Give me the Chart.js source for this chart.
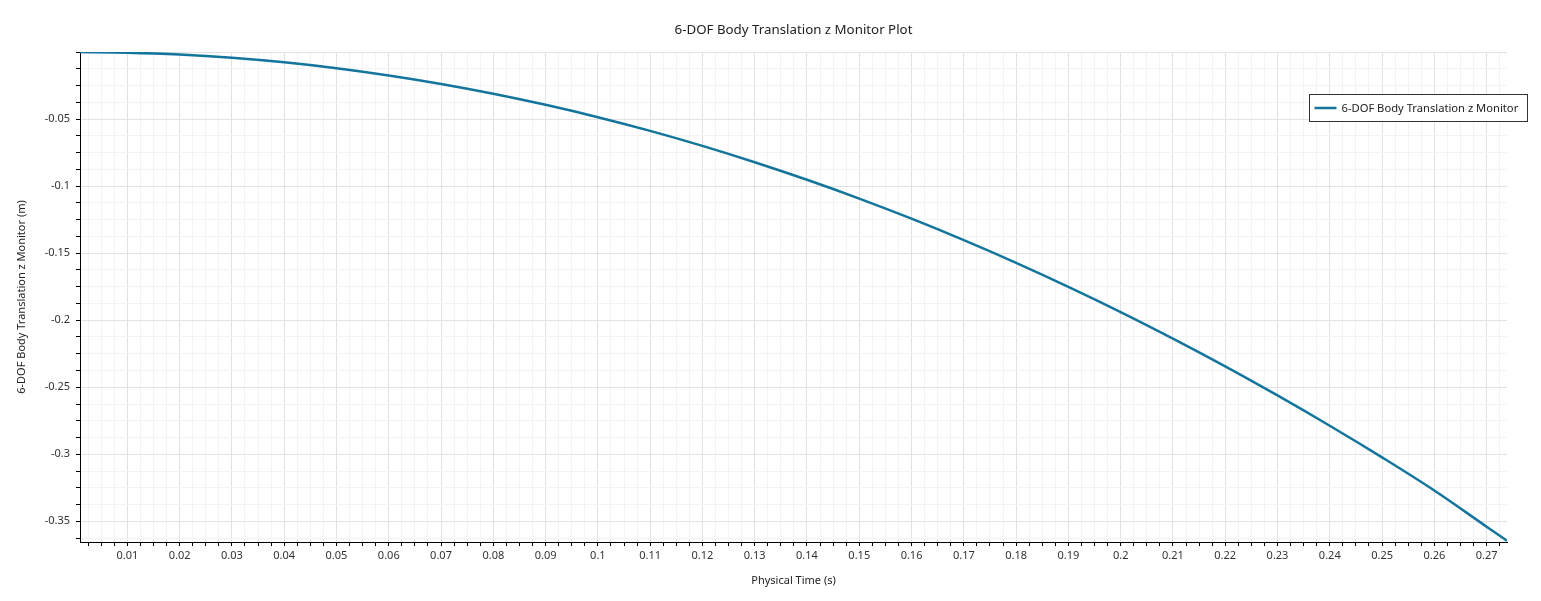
<!DOCTYPE html>
<html>
<head>
<meta charset="utf-8">
<title>6-DOF Body Translation z Monitor Plot</title>
<script src="https://cdn.jsdelivr.net/npm/chart.js@4.4.1/dist/chart.umd.min.js"></script>
<style>
  html, body { margin: 0; padding: 0; background: #fff; }
  #wrap { width: 1541px; height: 601px; }
</style>
</head>
<body>
<div id="wrap"><canvas id="monitorChart" width="1541" height="601"></canvas></div>
<script>
// physical time (s) and body translation z (m)
const times = [0.00094, 0.01, 0.02, 0.03, 0.04, 0.05, 0.06, 0.07, 0.08, 0.09, 0.1,
  0.11, 0.12, 0.13, 0.14, 0.15, 0.16, 0.17, 0.18, 0.19, 0.2,
  0.21, 0.22, 0.23, 0.24, 0.25, 0.26, 0.27, 0.2739];
const translationZ = [0.0, -0.0005, -0.0019, -0.0043, -0.0077, -0.0121, -0.0175, -0.0238, -0.0311, -0.0394, -0.0486,
  -0.0588, -0.0700, -0.0822, -0.0953, -0.1093, -0.1243, -0.1403, -0.1572, -0.1751, -0.1939,
  -0.2137, -0.2344, -0.2561, -0.2787, -0.3023, -0.3270, -0.3540, -0.3645];
const seriesLabel = '6-DOF Body Translation z Monitor';
const plotTitle = '6-DOF Body Translation z Monitor Plot';

const lineColor = '#13759c';
const fontFamily = "'Noto Sans', 'Open Sans', sans-serif";

function fmt(v) {
  return parseFloat(v.toFixed(3)).toString();
}

// title centred over the plot area, not the whole canvas
const plotTitleText = {
  id: 'plotTitleText',
  afterDraw(chart) {
    const ctx = chart.ctx;
    const area = chart.chartArea;
    ctx.save();
    ctx.fillStyle = '#222';
    ctx.font = '13.3px ' + fontFamily;
    ctx.textAlign = 'center';
    ctx.textBaseline = 'middle';
    ctx.fillText(plotTitle, (area.left + area.right) / 2, 30);
    ctx.restore();
  }
};

// legend box sitting over the top right of the plot
const boxLegend = {
  id: 'boxLegend',
  afterDraw(chart) {
    const ctx = chart.ctx;
    const x = 1309.5, y = 94.5, w = 218, h = 27;
    ctx.save();
    ctx.fillStyle = '#fff';
    ctx.fillRect(x, y, w, h);
    ctx.strokeStyle = '#333';
    ctx.lineWidth = 1;
    ctx.strokeRect(x, y, w, h);
    ctx.strokeStyle = lineColor;
    ctx.lineWidth = 2.5;
    ctx.beginPath();
    ctx.moveTo(x + 5, y + 13.5);
    ctx.lineTo(x + 27, y + 13.5);
    ctx.stroke();
    ctx.fillStyle = '#222';
    ctx.font = '11.2px ' + fontFamily;
    ctx.textBaseline = 'middle';
    ctx.fillText(chart.data.datasets[0].label, x + 32, y + 14);
    ctx.restore();
  }
};

const points = times.map((t, i) => ({ x: t, y: translationZ[i] }));

const ctx = document.getElementById('monitorChart').getContext('2d');
const monitorChart = new Chart(ctx, {
  type: 'line',
  data: {
    datasets: [{
      label: seriesLabel,
      data: points,
      borderColor: lineColor,
      backgroundColor: lineColor,
      borderWidth: 2.5,
      pointRadius: 0,
      cubicInterpolationMode: 'monotone',
      fill: false
    }]
  },
  options: {
    responsive: false,
    animation: false,
    layout: { padding: { left: 0, right: 34, top: 52, bottom: 0 } },
    plugins: {
      legend: { display: false },
      tooltip: { enabled: false },
      title: { display: false }
    },
    scales: {
      x: {
        type: 'linear',
        min: 0.00094,
        max: 0.2739,
        afterFit(scale) { scale.height = 59; },
        border: { color: '#000', width: 1 },
        grid: {
          color: c => (Math.round(c.tick.value / 0.0025) % 4 === 0) ? '#e2e2e2' : '#f3f3f3',
          tickColor: '#000',
          tickLength: 4
        },
        ticks: {
          stepSize: 0.0025,
          includeBounds: false,
          autoSkip: false,
          maxRotation: 0,
          padding: 3,
          color: '#333',
          font: { family: fontFamily, size: 11 },
          callback: v => (Math.round(v / 0.0025) % 4 === 0) ? fmt(v) : ''
        },
        title: {
          display: true,
          text: 'Physical Time (s)',
          color: '#222',
          font: { family: fontFamily, size: 11 },
          padding: { top: 0, bottom: 13.4 }
        }
      },
      y: {
        type: 'linear',
        min: -0.3654,
        max: 0,
        afterFit(scale) { scale.width = 80; },
        border: { color: '#000', width: 1 },
        grid: {
          color: c => (Math.round(c.tick.value / 0.0125) % 4 === 0) ? '#e2e2e2' : '#f3f3f3',
          tickColor: '#000',
          tickLength: 4
        },
        ticks: {
          stepSize: 0.0125,
          includeBounds: false,
          autoSkip: false,
          padding: 6,
          color: '#333',
          font: { family: fontFamily, size: 11 },
          callback: v => (Math.round(v / 0.0125) % 4 === 0 && Math.abs(v) > 1e-9) ? fmt(v) : ''
        },
        title: {
          display: true,
          text: '6-DOF Body Translation z Monitor (m)',
          color: '#222',
          font: { family: fontFamily, size: 11 },
          padding: { top: 15.4, bottom: 0 }
        }
      }
    }
  },
  plugins: [plotTitleText, boxLegend]
});
</script>
</body>
</html>
